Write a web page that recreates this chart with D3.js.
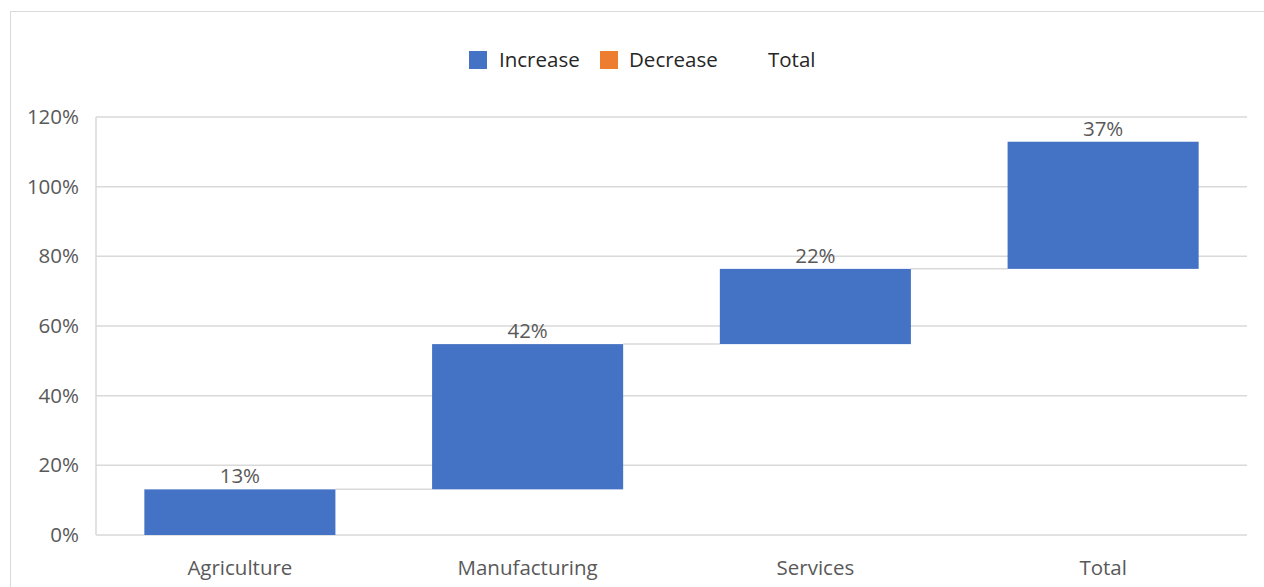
<!DOCTYPE html>
<html><head><meta charset="utf-8">
<script src="https://cdn.jsdelivr.net/npm/d3@7"></script>
<style>body{margin:0;background:#fff;}svg{display:block;font-family:"Open Sans","Liberation Sans",Arial,sans-serif;}</style>
</head><body>
<svg id="c" width="1264" height="587"></svg>
<script>
const categories = ["Agriculture", "Manufacturing", "Services", "Total"];
const values = [13.1, 41.7, 21.6, 36.5];
const labels = ["13%", "42%", "22%", "37%"];
const yTicks = [0, 20, 40, 60, 80, 100, 120];
const legendItems = ["Increase", "Decrease", "Total"];
const legendColors = ["#4472C4", "#ED7D31", "none"];

const FONT = "Open Sans, Liberation Sans, Arial, sans-serif";
const FS = 20.5;
const svg = d3.select("#c");
const m = {l: 96, r: 1247, t: 117, b: 535};
svg.append("rect").attr("x", 10.5).attr("y", 11.5).attr("width", 1270).attr("height", 600)
  .attr("fill", "none").attr("stroke", "#d9d9d9");

const x = d3.scaleBand().domain(categories).range([m.l, m.r]).paddingInner(0.336).paddingOuter(0.168);
const y = d3.scaleLinear().domain([0, 120]).range([m.b, m.t]);

// gridlines
svg.append("g").selectAll("line").data(yTicks).join("line")
  .attr("x1", m.l).attr("x2", m.r).attr("y1", d => y(d)).attr("y2", d => y(d))
  .attr("stroke", "#d9d9d9").attr("stroke-width", 1.5);
svg.append("line").attr("x1", m.l).attr("x2", m.l).attr("y1", m.t).attr("y2", m.b)
  .attr("stroke", "#d9d9d9").attr("stroke-width", 1.5);

// y axis
const yAxis = d3.axisLeft(y).tickValues(yTicks).tickFormat(d => d + "%").tickSize(0).tickPadding(17);
const ga = svg.append("g").attr("transform", `translate(${m.l},0)`).call(yAxis);
ga.select(".domain").remove();
ga.selectAll("text").attr("fill", "#595959").attr("font-size", FS).attr("font-family", FONT);

// x axis
const xAxis = d3.axisBottom(x).tickSize(0).tickPadding(25);
const gx = svg.append("g").attr("transform", `translate(0,${m.b})`).call(xAxis);
gx.select(".domain").remove();
gx.selectAll("text").attr("fill", "#595959").attr("font-size", FS).attr("font-family", FONT);

// waterfall data
let cum = 0;
const bars = categories.map((c, i) => { const s = cum; cum += values[i]; return {c, s, e: cum, lab: labels[i]}; });

// connectors
svg.append("g").selectAll("line").data(bars.slice(0, -1)).join("line")
  .attr("x1", (d) => x(d.c) + x.bandwidth())
  .attr("x2", (d, i) => x(bars[i + 1].c))
  .attr("y1", d => y(d.e)).attr("y2", d => y(d.e))
  .attr("stroke", "#d9d9d9").attr("stroke-width", 1.5);

svg.append("g").selectAll("rect").data(bars).join("rect")
  .attr("x", d => x(d.c)).attr("width", x.bandwidth())
  .attr("y", d => y(d.e)).attr("height", d => y(d.s) - y(d.e))
  .attr("fill", "#4472C4");

svg.append("g").selectAll("text").data(bars).join("text")
  .attr("x", d => x(d.c) + x.bandwidth() / 2).attr("y", d => y(d.e) - 6)
  .attr("text-anchor", "middle").attr("fill", "#595959").attr("font-size", FS)
  .attr("font-family", FONT)
  .text(d => d.lab);

// legend
const lg = svg.append("g");
const lx = [469, 600, 749];
const txtX = [499, 629, 768];
legendItems.forEach((t, i) => {
  if (legendColors[i] !== "none")
    lg.append("rect").attr("x", lx[i]).attr("y", 51).attr("width", 18).attr("height", 18).attr("fill", legendColors[i]);
  lg.append("text").attr("x", txtX[i]).attr("y", 67).attr("fill", "#262626").attr("font-size", FS)
    .attr("font-family", FONT).text(t);
});
</script>
</body></html>
